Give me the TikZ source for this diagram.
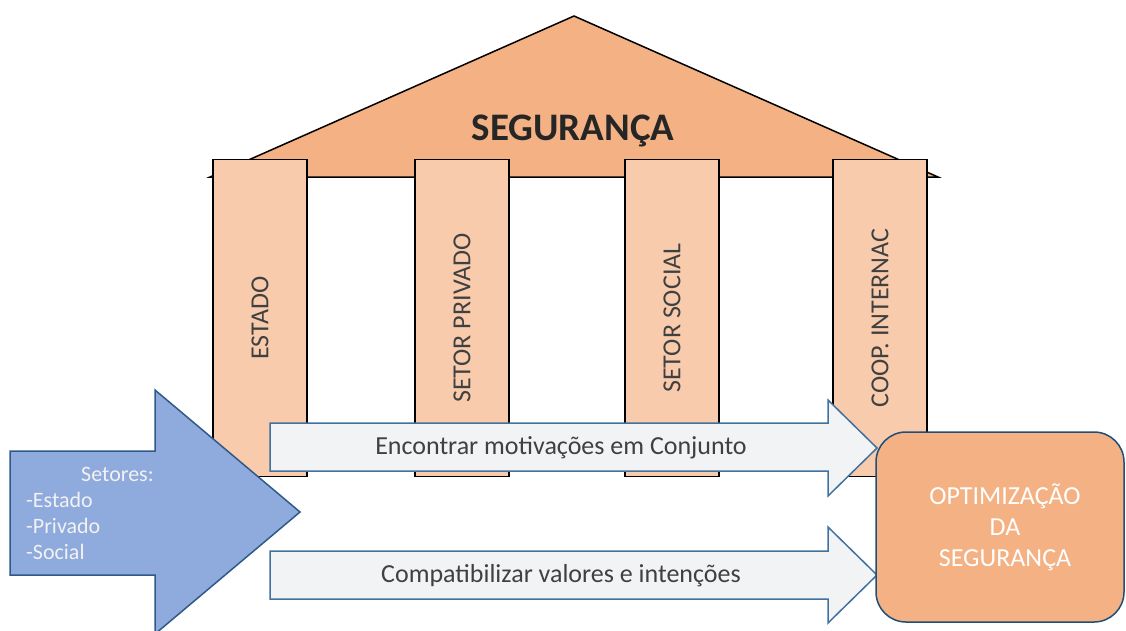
\documentclass[tikz,border=0pt]{standalone}
\usepackage{fontspec}
\setmainfont{Carlito}
\usepackage{xcolor}
\usepackage{tikz}
\usetikzlibrary{positioning}

\definecolor{roofc}{HTML}{F4B183}
\definecolor{pillarc}{HTML}{F8CBAD}
\definecolor{bluec}{HTML}{8FAADC}
\definecolor{blueline}{HTML}{2E5A87}
\definecolor{palec}{HTML}{F2F3F5}
\definecolor{paleline}{HTML}{41719C}
\definecolor{boxline}{HTML}{1F4E79}
\definecolor{txtc}{HTML}{404040}

\begin{document}
\begin{tikzpicture}[x=1pt,y=-1pt,
 pillar/.style={draw=black,fill=pillarc,line width=1.5pt,rotate=90,
   minimum width=317pt,minimum height=94pt,inner sep=0pt,
   text=txtc,font=\fontsize{26}{26}\selectfont},
 flecha/.style={draw=paleline,fill=palec,line width=1.5pt},
 rotulo/.style={text=txtc,font=\fontsize{26}{26}\selectfont}]
 \useasboundingbox (0,0) rectangle (1126,630);

 % telhado
 \draw[fill=roofc,line width=1.5pt] (210,177) -- (574,16) -- (938,177) -- cycle;
 \node[text=black!85,font=\bfseries\fontsize{39}{39}\selectfont] (titulo) at (573,131) {SEGURANÇA};

 % colunas
 \node[pillar] (estado) at (260,318) {ESTADO};
 \node[pillar] (privado) at (462,318) {SETOR PRIVADO};
 \node[pillar] (social) at (672,318) {SETOR SOCIAL};
 \node[pillar] (coop) at (880,318) {COOP. INTERNAC};

 % setores
 \draw[fill=bluec,draw=blueline,line width=1.5pt] (10,451) -- (155,451) -- (155,390)
   -- (300,512) -- (155,634) -- (155,575) -- (10,575) -- cycle;
 \node[text=white!95!black,align=left,font=\fontsize{22}{26}\selectfont,anchor=north west,inner sep=0pt]
   (setores) at (26,467) {\hspace*{55pt}Setores:\\-Estado\\-Privado\\-Social};

 % setas
 \draw[flecha] (270,423) -- (828,423) -- (828,400) -- (877,448) -- (828,496)
   -- (828,471) -- (270,471) -- cycle;
 \node[rotulo] (motiva) at (561,448) {Encontrar motivações em Conjunto};
 \draw[flecha] (270,551) -- (828,551) -- (828,527) -- (877,575) -- (828,623)
   -- (828,599) -- (270,599) -- cycle;
 \node[rotulo] (valores) at (561,576) {Compatibilizar valores e intenções};

 % resultado
 \node[draw=boxline,fill=roofc,rounded corners=30pt,line width=1.5pt,
   minimum width=248pt,minimum height=190pt,align=center,text=white,
   font=\fontsize{26}{31}\selectfont] (otim) at (1000,527)
   {\hspace*{10pt}OPTIMIZAÇÃO\\\hspace*{10pt}DA\\\hspace*{10pt}SEGURANÇA};
\end{tikzpicture}
\end{document}
